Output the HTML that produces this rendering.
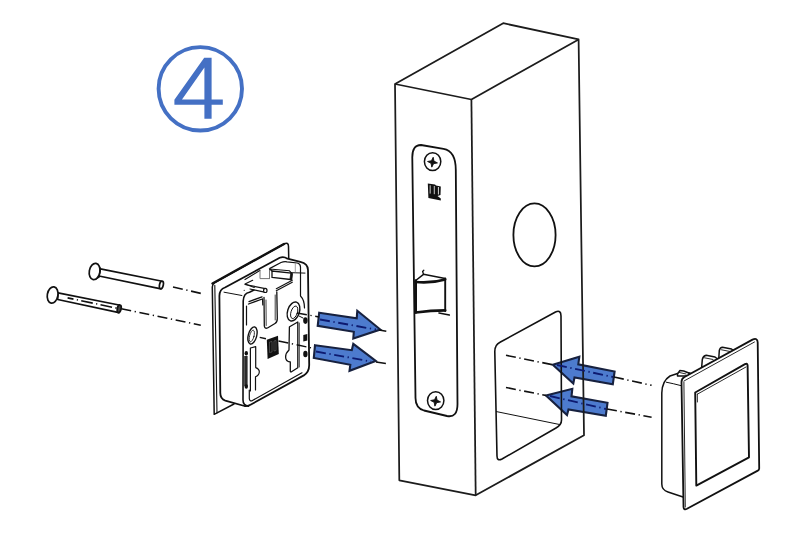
<!DOCTYPE html>
<html><head><meta charset="utf-8">
<style>
html,body{margin:0;padding:0;background:#fff;width:800px;height:533px;overflow:hidden;font-family:"Liberation Sans",sans-serif;}
svg{display:block}
</style></head><body>
<svg width="800" height="533" viewBox="0 0 800 533">
<rect width="800" height="533" fill="#fff"/>
<!-- circled 4 -->
<g fill="none" stroke="#4470c4">
<circle cx="200.3" cy="88.8" r="41.7" stroke-width="3.9"/>
</g>
<g fill="#4470c4">
<path d="M204.2 57.8 L211.6 57.8 L211.6 99.6 L222.8 99.6 L222.8 104.8 L211.6 104.8 L211.6 118.8 L204.4 118.8 L204.4 104.8 L174.4 104.8 L174.4 99.8 Z M204.4 99.6 L204.4 67.5 L182 99.6 Z" fill-rule="evenodd"/>
</g>

<!-- ARROWS -->
<g fill="#4d7bce" stroke="#17213f" stroke-width="2.1" stroke-linejoin="miter">
<path d="M319.2 312.7 L356.7 318.3 L357.3 310.8 L380.3 329.5 L353.3 338.5 L353.8 331.8 L317.7 325.8 Z"/>
<path d="M315 345.3 L351.8 350.2 L353.3 343.8 L375.8 361 L349.5 370.8 L350.3 364.8 L313.8 358 Z"/>
<path d="M552.8 364.8 L579.3 356.8 L578.3 364.3 L614.6 371.5 L612.8 384.3 L574.5 377.5 L573.3 383.5 Z"/>
<path d="M546 395.5 L572.3 388.8 L571.5 396.3 L607.5 402.8 L605.8 415.8 L568.5 409.4 L567 415 Z"/>
</g>
<!-- BOX -->
<g fill="none" stroke="#1c1c1c" stroke-width="1.75" stroke-linejoin="round">
<path d="M395 84 L503.2 23.2 L578.6 39.4 L584 435.2 L475.7 495.3 L399.3 480.3 Z"/>
<path d="M395 84 L471.4 99.5 L578.6 39.4"/>
<path d="M471.4 99.5 L475.7 495.3"/>
</g>

<!-- hole -->
<ellipse cx="534.5" cy="234.9" rx="21.1" ry="31.5" fill="none" stroke="#111" stroke-width="1.8"/>

<!-- cutout -->
<g fill="none" stroke="#111" stroke-width="1.6" stroke-linejoin="round">
<path d="M494.8 352 Q494.6 345 500 342.3 L555.5 312 Q561 309.5 561 316 L561.5 420 Q561.5 425 556 428 L502 459 Q497 461.5 497 456 Z"/>
</g>
<path d="M496 411.5 L560 424.6" stroke="#111" stroke-width="1" fill="none"/>

<!-- faceplate -->
<g fill="none" stroke="#111" stroke-width="1.8" stroke-linejoin="round">
<path d="M412.3 158 Q412 145 421 145 L443.5 148.8 Q455.8 151 455.8 170 L457.5 404 Q457.5 418 447 416 L424 410.5 Q415.5 408 415.5 398 Z"/>
<ellipse cx="432.6" cy="161.6" rx="8.2" ry="8.9" stroke-width="1.5"/>
<ellipse cx="435.7" cy="400.6" rx="8.2" ry="8.9" stroke-width="1.5"/>
</g>
<!-- screw crosses -->
<g fill="#111" stroke="#111" stroke-width="0.9" stroke-linejoin="round">
<path d="M433.20 157.25 L433.94 161.12 L437.45 162.90 L433.58 163.64 L431.80 167.15 L431.06 163.28 L427.55 161.50 L431.42 160.76Z"/>
<path d="M436.30 396.25 L437.04 400.12 L440.55 401.90 L436.68 402.64 L434.90 406.15 L434.16 402.28 L430.65 400.50 L434.52 399.76Z"/>
</g>
<!-- logo -->
<g fill="#111">
<path d="M427.8 183.4 L435 184.5 L436 185.6 L440.8 186.5 L440.5 195 L437.5 196 L440.8 198.5 L440.8 200.4 L428.4 198 Z"/>
</g>
<g fill="#fff" opacity="0.85">
<rect x="429.7" y="185.3" width="0.9" height="8.3"/>
<rect x="433.8" y="186" width="0.9" height="8.2"/>
<rect x="437.9" y="187" width="1" height="7.5"/>
</g>
<!-- latch -->
<g fill="none" stroke="#111" stroke-linejoin="round" stroke-linecap="round">
<path d="M415.7 280.5 L415.7 312.5" stroke-width="2.6"/>
<path d="M445.2 278.4 L445.2 311" stroke-width="1.9"/>
<path d="M415.7 280.5 L423.5 274.3 L445.2 278.4" stroke-width="1.5"/>
<path d="M423.5 274.3 L422.6 271.5 L423.8 270.2" stroke-width="1.3"/>
<path d="M415.7 282 Q431 283.5 445.2 279.4" stroke-width="2.6"/>
<path d="M415.7 312.5 Q431 310.5 445.2 310.4" stroke-width="2.6"/>
<path d="M439 313 L449.3 315" stroke-width="1.6"/>
</g>

<!-- dash-dot center lines -->
<g fill="none" stroke="#111" stroke-width="1.6" stroke-dasharray="10 3.6 1.3 3.6">
<path d="M173 287 L200.8 293.4"/>
<path d="M121.3 308.8 L200.8 325.2"/>
<path d="M58 296 L121 309"/>
</g>
<g fill="none" stroke="#0d1a70" stroke-width="1.8" stroke-dasharray="10 3.6 1.3 3.6">
<path d="M320 319.5 L376 329.5"/>
<path d="M316 351.5 L371 361.5"/>
<path d="M557 365 L613 377"/>
<path d="M550 396 L606 409"/>
</g>
<g fill="none" stroke="#111" stroke-width="1.6" stroke-dasharray="10 3.6 1.3 3.6">
<path d="M379 330 L386.3 331.2"/>
<path d="M376 362 L386.3 363.6"/>
<path d="M506 355.3 L553 364.8"/>
<path d="M506 387.5 L546 395.5"/>
<path d="M614 377 L651.6 385.3"/>
<path d="M607 409 L651.6 417.2"/>
</g>

<!-- SCREWS LEFT -->
<g fill="#fff" stroke="#111" stroke-width="1.7" stroke-linejoin="round">
<path d="M100.4 268.8 L161 281 L161 288.8 L99 276 Z"/>
<ellipse cx="161.4" cy="284.9" rx="1.9" ry="3.9" transform="rotate(12 161.4 284.9)"/>
<path d="M94 264 Q98 268 99.8 267.5 L99 277 Q97 278 95 279.5"/>
<ellipse cx="94.6" cy="271.5" rx="5.3" ry="8.2" transform="rotate(10 94.6 271.5)"/>
<path d="M58 292.8 L119 305 L119 312.6 L57.7 299.5 Z"/>
<ellipse cx="119.2" cy="308.8" rx="1.9" ry="3.9" transform="rotate(12 119.2 308.8)" fill="#444"/>
<ellipse cx="52.6" cy="295" rx="5.3" ry="8.2" transform="rotate(10 52.6 295)"/>
</g>
<g fill="none" stroke="#111" stroke-width="1.6" stroke-dasharray="11.8 3.4 1.2 3.3">
<path d="M67.6 297.9 L117.5 308.3" stroke-dashoffset="5.8"/>
</g>


<!-- WALL MODULE -->
<g fill="#fff" stroke="#111" stroke-width="1.5" stroke-linejoin="round" stroke-linecap="round">
<!-- plate -->
<path d="M214.2 414.3 L212.3 287 Q212.4 284 214.8 282.6 L284 244 Q288.5 241.8 288.5 246.5 L288.8 262 L234 404 Z"/>
<path d="M217 412.8 L214.8 285.2" fill="none" stroke-width="1.1"/>
<path d="M212.5 283.5 L284 244" fill="none" stroke-width="2.4"/>
<!-- housing silhouette -->
<path d="M244.5 406 L225.3 400.6 Q220.3 399 220.3 393 L219.4 296 Q219.6 289 225 287.5 L279.7 257.8 Q283.5 256 287.5 258.7 L300.3 261.8 Q308 263.5 308 270 L309.2 365 Q309.2 372 303.8 375.4 L251 404.5 Q248 406.5 244.5 406 Z" stroke-width="1.8"/>
</g>
<g fill="none" stroke="#111" stroke-width="1.4" stroke-linejoin="round" stroke-linecap="round">
<path d="M224 292.2 L241.9 295.5" stroke-width="1"/>
<!-- front face left edge -->
<path d="M248.5 406.2 Q243 405.5 243 400 L243.2 301 Q243.7 293 249.5 292.2 L254 290" stroke-width="1.6"/>
<!-- inner lip -->
<path d="M245 279.5 L259.8 270.6 M269.5 268.6 L281 262.5 Q284 261.3 287 261.8 L297.4 263 Q300.5 263.8 300.5 267 L300.5 296 Q304.5 300 304.5 308" stroke-width="1.2"/>
<!-- bottom inner -->
<path d="M249.3 390 L249.3 398.5 Q249.5 401.5 252 400.8 L302 372.8" stroke-width="1.2"/>
<!-- pin tab -->
<path d="M252.7 280.3 L245 284 L254.3 287.5" stroke-width="1.1"/>
<path d="M245 284.5 L265.3 288.6 M250 289 L264.5 292.2" stroke-width="1.2"/>
<ellipse cx="265.3" cy="290.4" rx="1.7" ry="2.1" fill="#fff" stroke-width="1.2"/>
<circle cx="244.2" cy="290.3" r="0.6" fill="#111" stroke="none"/>
<!-- top block -->
<path d="M260 270.6 L260 278.6 L269.5 278.6 M269.5 268.6 L269.5 278.6" stroke-width="1" stroke="#777"/>
<path d="M272 271 L291.5 273.1 L290.6 279.5 L272 277.4 Z" stroke-width="1.3"/>
<path d="M269.5 269 L272 271 M269.5 269 L289.5 270.8 L291.5 273.1" stroke-width="1.1"/>
<path d="M291.2 272.3 L292.6 273.5 L291.8 280 L290.3 279.8 Z" fill="#111" stroke-width="0.8"/>
<path d="M292.3 272.7 L305 273.1" stroke-width="1"/>
<path d="M295.3 263.5 L295.3 272" stroke-width="0.8" stroke="#888"/>
<!-- diagonal double -->
<path d="M276.3 288.75 L292.3 280.3 M276.3 290.7 L292.3 282.2" stroke-width="1.1"/>
<!-- pad -->
<path d="M249 301.6 L262 296.8 M248.5 304 L262.3 299" stroke-width="1.3"/>
<path d="M246.5 306 L246.5 325 M262.5 299 L262.8 305" stroke-width="1.2"/>
<!-- U slot -->
<path d="M264 297.5 L264.3 325.8 Q264.7 329 267.5 328 L275 323.5 Q277.3 322.2 277.3 318.5 L276.8 292" stroke-width="1.3"/>
<path d="M266 300 L266.2 325.5 M275.2 295 L275.2 320" stroke-width="0.8"/>
<!-- right oval hole -->
<ellipse cx="293.5" cy="311.5" rx="5.9" ry="9.8" transform="rotate(18 293.5 311.5)" stroke-width="1.4"/>
<ellipse cx="294.2" cy="312.3" rx="3.2" ry="6.5" transform="rotate(18 294.2 312.3)" stroke-width="0.9"/>
<path d="M299 316 L303 318" stroke-width="1"/>
<!-- left oval hole -->
<ellipse cx="252.5" cy="335.5" rx="4.2" ry="8.8" transform="rotate(15 252.5 335.5)" stroke-width="1.4"/>
<ellipse cx="251.8" cy="336" rx="2.2" ry="6" transform="rotate(15 251.8 336)" stroke-width="0.8"/>
<!-- right vertical slot -->
<path d="M290 326.5 L297.8 322 L297.8 367.8 L291.5 371.8 Q290.3 372.3 290.3 371 L290.3 362 Q285.6 361.5 285.6 357 Q285.6 353 289 350 L289.4 327" stroke-width="1.3"/>
<path d="M299.3 323 L299.3 367" stroke-width="0.8"/>
<!-- left vertical slot -->
<path d="M250.4 391 L250.4 348 L255.7 346.6 L255.7 367.6 Q259.5 369 259.3 372 Q259 375.5 255.5 376.7 L255.5 390" stroke-width="1.2"/>
</g>
<g fill="#111">
<path d="M266.8 339.8 L278 335.8 L278.8 354 L267.6 359 Z"/>
<ellipse cx="305.4" cy="320.6" rx="2.2" ry="3.3"/>
<path d="M303.3 335 L307.3 334 L307.3 340.5 L303.3 341.5 Z"/>
<ellipse cx="305.4" cy="354" rx="2.2" ry="3.3"/>
<rect x="244.2" y="356" width="3.4" height="30" fill="#2a2a2a"/><ellipse cx="246.3" cy="353.2" rx="1.7" ry="2.3"/><ellipse cx="246.3" cy="386.5" rx="1.7" ry="2.3"/>
</g>
<g fill="none" stroke="#666" stroke-width="0.6">
<path d="M269.5 342 L269.5 352.5 L272 352 L272 341.5 Z M274 341 L274 351 L276 350.5 L276 340.5Z"/>
</g>
<g fill="none" stroke="#111" stroke-width="1.4" stroke-dasharray="10 3.6 1.3 3.6">
<path d="M259.7 337.4 L266 338.8"/>
<path d="M278.5 341 L311 347.8"/>
<path d="M297 313 L319 317"/>
</g>

<!-- RIGHT PANEL -->
<g fill="#fff" stroke="#111" stroke-width="1.5" stroke-linejoin="round" stroke-linecap="round">
<!-- housing -->
<path d="M683 497 L668 492 Q661.8 490 661.8 484 L661.8 393 Q662 381 670 376 L677.5 373.5 L690 373 L700 380 L690 500 Z"/>
<path d="M666.3 382.2 Q673 383.5 680.9 385.6" fill="none" stroke-width="1"/>
<!-- tabs -->
<path d="M677.5 374 L679.8 370.6 L683.7 371 L688.8 373 L688.8 376 L677.5 376 Z"/>
<path d="M679.5 372.5 L686 374" fill="none" stroke-width="0.9"/>
<path d="M701.7 367 L702.3 359.5 Q703 355.8 706.2 355.2 L715 357 L717 358.5 L717 366 Z"/>
<path d="M704.5 357.8 L713 359.5" fill="none" stroke-width="0.9"/>
<path d="M718.8 358 L719.3 350.5 Q720 347.3 722.5 347.2 L731.5 349 L733.5 350.5 L733.5 357 Z"/>
<path d="M721.5 349.8 L730 351.5" fill="none" stroke-width="0.9"/>
<!-- plate -->
<path d="M681.5 382 Q681.5 378.5 684.5 377 L752.5 339.6 Q757.6 337.3 757.7 342.5 L759.2 468.5 Q759.2 469.8 757.8 470.6 L687 508.8 Q683.6 510.3 683.5 507 Z" stroke-width="1.8"/>
<path d="M684 381 L754.5 342 M683.9 382 L685.3 507" fill="none" stroke-width="0.9"/>
<!-- window -->
<path d="M695.2 392.5 L745 364.2 Q747.5 362.8 747.6 365.5 L749 457.3 L696.3 485.6 Z" stroke-width="1.9"/>
<path d="M697.3 394.2 L746 367 M697.3 394.2 L697.4 402" fill="none" stroke-width="0.9"/>
</g>
</svg>
</body></html>
